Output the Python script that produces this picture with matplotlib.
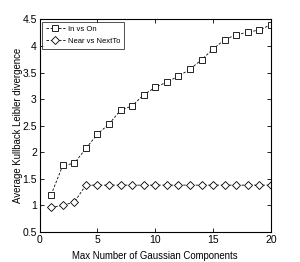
import matplotlib
matplotlib.use("Agg")
import matplotlib.pyplot as plt

plt.rcParams['font.family'] = ['Liberation Sans', 'DejaVu Sans']

x = list(range(1, 21))
in_vs_on = [1.20, 1.75, 1.79, 2.07, 2.34, 2.53, 2.79, 2.87, 3.08, 3.22,
            3.32, 3.43, 3.56, 3.74, 3.94, 4.12, 4.21, 4.26, 4.30, 4.40]
near_vs_nextto = [0.96, 1.00, 1.06, 1.38, 1.38, 1.38, 1.38, 1.38, 1.38, 1.38,
                  1.38, 1.38, 1.38, 1.38, 1.38, 1.38, 1.38, 1.38, 1.38, 1.38]
labels = ['In vs On', 'Near vs NextTo']

fig = plt.figure(figsize=(3.0, 2.62), dpi=100)
ax = fig.add_axes([0.132, 0.115, 0.771, 0.811])

ax.plot(x, in_vs_on, color='black', linestyle=(0, (3, 2)), linewidth=0.6,
        marker='s', markersize=4, markerfacecolor='white', markeredgecolor='black',
        markeredgewidth=0.6, label=labels[0])
ax.plot(x, near_vs_nextto, color='black', linestyle=(0, (3, 2)), linewidth=0.6,
        marker='D', markersize=4, markerfacecolor='white', markeredgecolor='black',
        markeredgewidth=0.6, label=labels[1])

ax.set_xlim(0, 20)
ax.set_ylim(0.5, 4.5)
ax.set_xticks([0, 5, 10, 15, 20])
ax.set_yticks([0.5, 1, 1.5, 2, 2.5, 3, 3.5, 4, 4.5])
ax.set_yticklabels(['0.5', '1', '1.5', '2', '2.5', '3', '3.5', '4', '4.5'])
ax.tick_params(direction='in', top=True, right=True, labelsize=7.5, length=3,
               width=0.6, pad=2)
for s in ax.spines.values():
    s.set_linewidth(0.8)

ax.set_xlabel('Max Number of Gaussian Components', fontsize=6.9)
ax.set_ylabel('Average Kullback Leibler divergence', fontsize=6.9)
ax.xaxis.set_label_coords(0.5, -0.088)
ax.yaxis.set_label_coords(-0.07, 0.5)

leg = ax.legend(loc='upper left', fontsize=5.5, frameon=True, fancybox=False,
                edgecolor='black', borderpad=0.5, handlelength=2.5,
                handletextpad=0.4, labelspacing=0.6, borderaxespad=0.3)
leg.get_frame().set_linewidth(0.6)

fig.savefig('out.png', dpi=100)
